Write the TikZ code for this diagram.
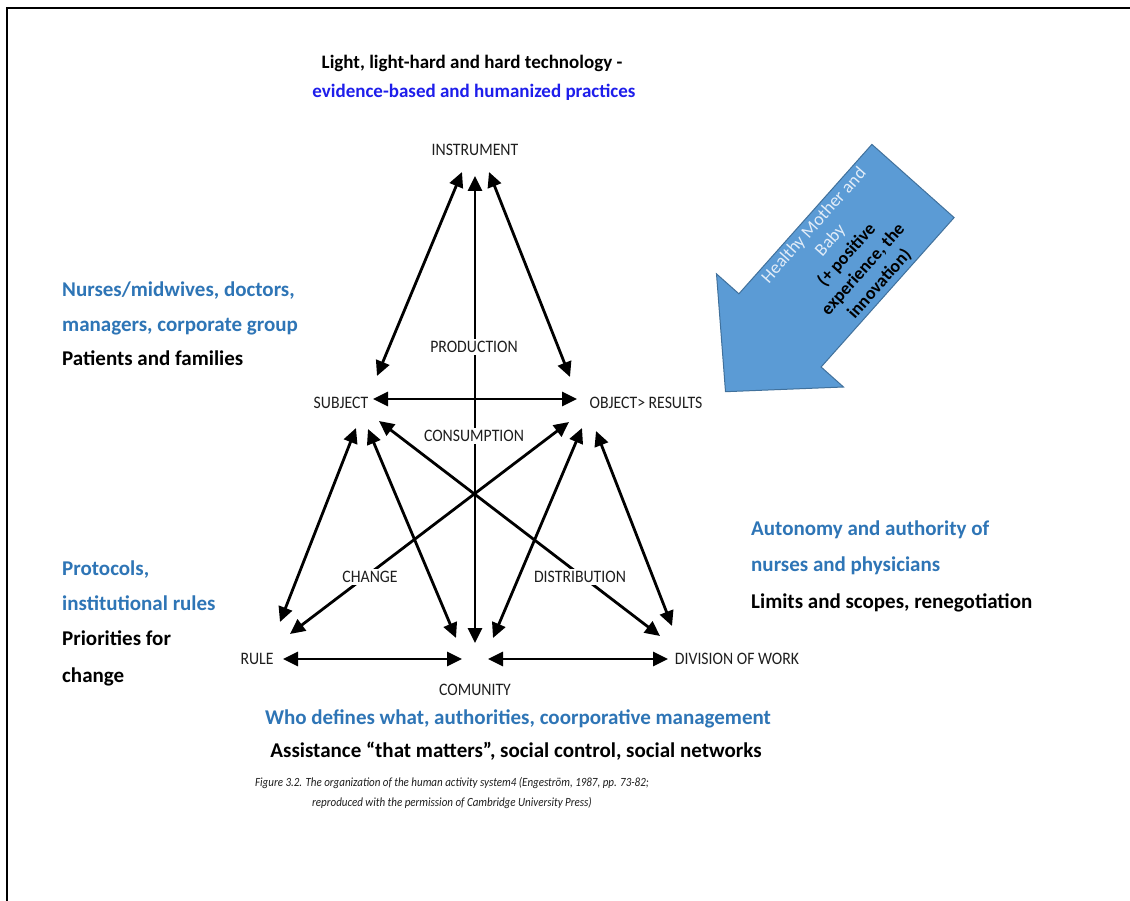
\documentclass[tikz,border=0pt]{standalone}
\usepackage{fontspec}
\setmainfont{Carlito}
\usetikzlibrary{arrows.meta}
\definecolor{tblue}{RGB}{30,30,235}
\definecolor{sblue}{RGB}{46,117,182}
\definecolor{afill}{RGB}{91,155,213}
\definecolor{aline}{RGB}{65,113,156}
\definecolor{lbl}{RGB}{30,30,30}
\definecolor{hmcol}{RGB}{225,236,248}
\newcommand{\mylab}[1]{\scalebox{0.9}[1]{#1}}
\begin{document}
\begin{tikzpicture}[x=1pt,y=-1pt,
  dbl/.style={line width=2.8pt,{Triangle[length=15pt,width=14pt]}-{Triangle[length=15pt,width=14pt]}},
  lab/.style={font=\fontsize{17.5}{20}\selectfont, text=lbl, inner sep=1.5pt},
  wlab/.style={lab, fill=white, inner sep=2pt},
  side/.style={font=\bfseries\fontsize{21}{25}\selectfont, anchor=base west, inner sep=0pt},
  bot/.style={font=\bfseries\fontsize{21}{25}\selectfont, anchor=base, inner sep=0pt},
  top/.style={font=\bfseries\fontsize{19}{22}\selectfont, anchor=base, inner sep=0pt}]
\useasboundingbox (0,0) rectangle (1130,901);
\fill[white] (0,0) rectangle (1130,901);
% frame
\draw[line width=2.4pt] (7,901) -- (7,8) -- (1130,8);
% endpoints
\coordinate (i1) at (462,172); \coordinate (i2) at (475,176); \coordinate (i3) at (489,172);
\coordinate (s1) at (377,376); \coordinate (s2) at (373,399);
\coordinate (s3) at (356,428); \coordinate (s4) at (368,429); \coordinate (s5) at (379,421);
\coordinate (o1) at (570,377); \coordinate (o2) at (577,399);
\coordinate (o3) at (569,422); \coordinate (o4) at (582,428); \coordinate (o5) at (596,431);
\coordinate (r1) at (280,622); \coordinate (r2) at (290,634); \coordinate (r3) at (283,659);
\coordinate (c1) at (462,659); \coordinate (c2) at (488,659);
\coordinate (c3) at (456,638); \coordinate (c4) at (475,643); \coordinate (c5) at (493,638);
\coordinate (d1) at (660,636); \coordinate (d2) at (672,626); \coordinate (d3) at (668,659);
% connectors
\draw[dbl] (s1) -- (i1);
\draw[dbl] (c4) -- (i2);
\draw[dbl] (o1) -- (i3);
\draw[dbl] (s2) -- (o2);
\draw[dbl] (r1) -- (s3);
\draw[dbl] (c3) -- (s4);
\draw[dbl] (d1) -- (s5);
\draw[dbl] (r2) -- (o3);
\draw[dbl] (c5) -- (o4);
\draw[dbl] (d2) -- (o5);
\draw[dbl] (r3) -- (c1);
\draw[dbl] (c2) -- (d3);
% labels
\node[lab] (instr) at (475,150) {\mylab{INSTRUMENT}};
\node[lab] (subj) at (341,403) {\mylab{SUBJECT}};
\node[lab] (obj) at (646,403) {\mylab{OBJECT> RESULTS}};
\node[wlab] (prod) at (474,347) {\mylab{PRODUCTION}};
\node[wlab] (cons) at (474,436) {\mylab{CONSUMPTION}};
\node[wlab] (chg) at (370,577) {\mylab{CHANGE}};
\node[wlab] (dist) at (580,577) {\mylab{DISTRIBUTION}};
\node[lab] (rule) at (257,659) {\mylab{RULE}};
\node[lab] (div) at (737,659) {\mylab{DIVISION OF WORK}};
\node[lab] (com) at (475,690) {\mylab{COMUNITY}};
% top
\node[top] (t1) at (472,69) {Light, light-hard and hard technology -};
\node[top, text=tblue] (t2) at (474,98) {evidence-based and humanized practices};
% left
\node[side, text=sblue] (l1) at (62,297) {Nurses/midwives, doctors,};
\node[side, text=sblue] (l2) at (62,332) {managers, corporate group};
\node[side] (l3) at (62,366) {Patients and families};
\node[side, text=sblue] (p1) at (62,575) {Protocols,};
\node[side, text=sblue] (p2) at (62,610) {institutional rules};
\node[side] (p3) at (62,645) {Priorities for};
\node[side] (p4) at (62,682) {change};
% right
\node[side, text=sblue] (a1) at (751,535) {Autonomy and authority of};
\node[side, text=sblue] (a2) at (751,571) {nurses and physicians};
\node[side] (a3) at (751,608) {Limits and scopes, renegotiation};
% bottom
\node[bot, text=sblue] (b1) at (518,724) {Who defines what, authorities, coorporative management};
\node[bot] (b2) at (516,757) {Assistance “that matters”, social control, social networks};
\node[font=\itshape\fontsize{12.5}{20}\selectfont, align=center, text=lbl] (cap) at (452,793)
  {\scalebox{0.88}[1]{Figure 3.2. The organization of the human activity system4 (Engeström, 1987, pp. 73-82;}\\
   \scalebox{0.88}[1]{reproduced with the permission of Cambridge University Press)}};
% blue block arrow
\draw[fill=afill, draw=aline, line width=1pt]
  (871.9,144.4) -- (954.1,217.6) -- (821.1,367) -- (843.5,387) -- (725.5,391.7)
  -- (716.5,273.9) -- (738.9,293.8) -- cycle;
\node[rotate=48.3, align=center, font=\fontsize{18}{22}\selectfont, inner sep=0pt] (hm) at (847,255)
  {\textcolor{hmcol}{Healthy Mother and}\\\textcolor{hmcol}{Baby}\\\textbf{(+ positive}\\\textbf{experience, the}\\\textbf{innovation)}};
\end{tikzpicture}
\end{document}
